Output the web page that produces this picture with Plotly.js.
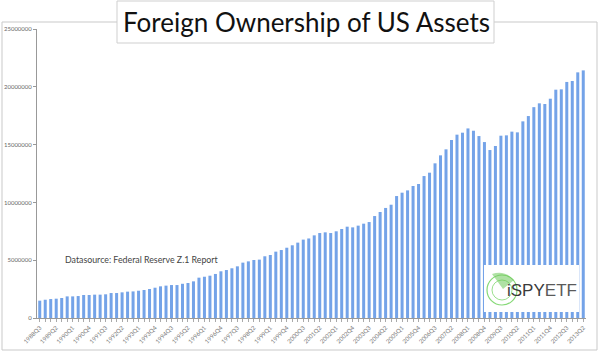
<!DOCTYPE html>
<html>
<head>
<meta charset="utf-8">
<script src="https://cdn.plot.ly/plotly-3.0.1.min.js"></script>
<style>html,body{margin:0;padding:0;background:#fff;}#chart{width:600px;height:354px;}</style>
</head>
<body>
<div id="chart"></div>
<script>
var quarters = [
"1988Q3","1988Q4","1989Q1","1989Q2","1989Q3","1989Q4","1990Q1","1990Q2","1990Q3","1990Q4",
"1991Q1","1991Q2","1991Q3","1991Q4","1992Q1","1992Q2","1992Q3","1992Q4","1993Q1","1993Q2",
"1993Q3","1993Q4","1994Q1","1994Q2","1994Q3","1994Q4","1995Q1","1995Q2","1995Q3","1995Q4",
"1996Q1","1996Q2","1996Q3","1996Q4","1997Q1","1997Q2","1997Q3","1997Q4","1998Q1","1998Q2",
"1998Q3","1998Q4","1999Q1","1999Q2","1999Q3","1999Q4","2000Q1","2000Q2","2000Q3","2000Q4",
"2001Q1","2001Q2","2001Q3","2001Q4","2002Q1","2002Q2","2002Q3","2002Q4","2003Q1","2003Q2",
"2003Q3","2003Q4","2004Q1","2004Q2","2004Q3","2004Q4","2005Q1","2005Q2","2005Q3","2005Q4",
"2006Q1","2006Q2","2006Q3","2006Q4","2007Q1","2007Q2","2007Q3","2007Q4","2008Q1","2008Q2",
"2008Q3","2008Q4","2009Q1","2009Q2","2009Q3","2009Q4","2010Q1","2010Q2","2010Q3","2010Q4",
"2011Q1","2011Q2","2011Q3","2011Q4","2012Q1","2012Q2","2012Q3","2012Q4","2013Q1","2013Q2"
];
var foreignAssets = [
1500000,1580000,1640000,1670000,1730000,1870000,1870000,1900000,1990000,1990000,
2020000,2020000,2050000,2160000,2160000,2220000,2280000,2300000,2360000,2420000,
2510000,2620000,2740000,2800000,2850000,2850000,2960000,3030000,3170000,3490000,
3570000,3660000,3810000,4040000,4150000,4300000,4470000,4790000,4900000,5020000,
5050000,5340000,5450000,5740000,5880000,6080000,6290000,6520000,6780000,6880000,
7150000,7350000,7410000,7350000,7500000,7700000,7900000,7840000,7990000,8160000,
8300000,8820000,9170000,9520000,9800000,10550000,10840000,11040000,11420000,11590000,
12280000,12570000,13380000,14070000,14590000,15400000,15860000,16030000,16400000,16200000,
15740000,15220000,14530000,14880000,15770000,15800000,16120000,16060000,17010000,17470000,
18240000,18570000,18510000,18970000,19750000,19780000,20420000,20500000,21250000,21420000
];
var tickLabels = quarters.filter(function(q, i){ return i % 3 === 0; });
var yTicks = [0,5000000,10000000,15000000,20000000,25000000];

var L = 37, R = 586, B = 318, T = 29;
function px(x){ return (x - L) / (R - L); }
function py(y){ return (B - y) / (B - T); }

var trace = {
  type: 'bar',
  x: quarters,
  y: foreignAssets,
  marker: {color: '#74a3e8', line: {width: 0}},
  hoverinfo: 'x+y'
};

var layout = {
  width: 600, height: 354,
  margin: {l: L, r: 600 - R, t: T, b: 354 - B},
  paper_bgcolor: '#ffffff', plot_bgcolor: '#ffffff',
  bargap: 0.45,
  showlegend: false,
  font: {family: 'Lato, "Open Sans", sans-serif', color: '#555'},
  xaxis: {
    type: 'category',
    range: [-0.5, quarters.length - 0.5],
    tickmode: 'array', tickvals: tickLabels, ticktext: tickLabels,
    tickangle: -45,
    tickfont: {size: 6, color: '#777'},
    ticks: 'outside', ticklen: 3, tickcolor: '#aaa',
    minor: {tickmode: 'linear', tick0: 0, dtick: 1, ticks: 'outside', ticklen: 3, tickcolor: '#aaa', showgrid: false},
    showline: true, linecolor: '#999', linewidth: 1,
    showgrid: false, zeroline: false, fixedrange: true
  },
  yaxis: {
    range: [0, 25000000],
    tickmode: 'array', tickvals: yTicks, ticktext: yTicks.map(String),
    tickfont: {size: 6, color: '#666'},
    ticks: 'outside', ticklen: 3, tickcolor: '#999',
    showline: true, linecolor: '#999', linewidth: 1,
    showgrid: false, zeroline: false, fixedrange: true
  },
  shapes: [
    {type: 'rect', xref: 'paper', yref: 'paper', x0: px(2), x1: px(597), y0: py(350), y1: py(22),
     line: {color: '#c9c9c9', width: 1}, fillcolor: 'rgba(0,0,0,0)', layer: 'below'},
    {type: 'rect', xref: 'paper', yref: 'paper', x0: px(117), x1: px(494), y0: py(43), y1: py(1),
     line: {color: '#cfcfcf', width: 1}, fillcolor: '#ffffff', layer: 'above'},
    {type: 'rect', xref: 'paper', yref: 'paper', x0: px(484), x1: px(579), y0: py(312), y1: py(265),
     line: {width: 0}, fillcolor: '#ffffff', layer: 'above'},
    {type: 'circle', xref: 'paper', yref: 'paper', x0: px(487), x1: px(517), y0: py(305), y1: py(275),
     line: {color: '#86d977', width: 1.2}, fillcolor: 'rgba(0,0,0,0)', layer: 'above'},
    {type: 'circle', xref: 'paper', yref: 'paper', x0: px(492), x1: px(512), y0: py(300), y1: py(280),
     line: {color: '#9be08d', width: 1}, fillcolor: 'rgba(0,0,0,0)', layer: 'above'},
    {type: 'path', xref: 'paper', yref: 'paper',
     path: 'M ' + px(503) + ' ' + py(289) + ' L ' + px(492) + ' ' + py(274) + ' Q ' + px(505) + ' ' + py(270) + ' ' + px(514) + ' ' + py(280) + ' Z',
     line: {width: 0}, fillcolor: 'rgba(110,200,90,0.55)', layer: 'above'}
  ],
  annotations: [
    {text: 'Foreign Ownership of US Assets', xref: 'paper', yref: 'paper', x: px(306), y: py(22),
     xanchor: 'center', yanchor: 'middle', showarrow: false,
     font: {family: 'Lato, "Open Sans", sans-serif', size: 26, color: '#111'}},
    {text: 'Datasource: Federal Reserve Z.1 Report', xref: 'paper', yref: 'paper', x: px(63), y: py(259),
     xanchor: 'left', yanchor: 'middle', showarrow: false,
     font: {family: 'Lato, "Open Sans", sans-serif', size: 8.8, color: '#444'}},
    {text: '<span style="color:#3a3a3a">iSPY</span><span style="color:#5a5a5a">ETF</span>', xref: 'paper', yref: 'paper',
     x: px(505), y: py(290), xanchor: 'left', yanchor: 'middle', showarrow: false,
     font: {family: '"Liberation Sans", Arial, sans-serif', size: 17, color: '#3a3a3a'}}
  ]
};

Plotly.newPlot('chart', [trace], layout, {displayModeBar: false, staticPlot: true});
</script>
</body>
</html>
